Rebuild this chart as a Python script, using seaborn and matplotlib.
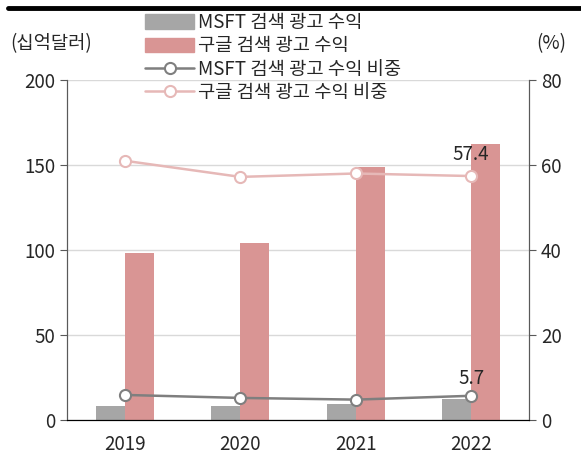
import numpy as np
import pandas as pd
import matplotlib
matplotlib.use('Agg')
import matplotlib.pyplot as plt
import seaborn as sns
from matplotlib.lines import Line2D

# data
years = ['2019', '2020', '2021', '2022']
msft_rev = [8.5, 8.5, 9.7, 12.5]          # 십억달러
google_rev = [98.1, 104.1, 149.0, 162.5]  # 십억달러
msft_share = [5.9, 5.2, 4.8, 5.7]         # %
google_share = [61.0, 57.2, 58.0, 57.4]   # %

rev_labels = ['MSFT 검색 광고 수익', '구글 검색 광고 수익']
share_labels = ['MSFT 검색 광고 수익 비중', '구글 검색 광고 수익 비중']

bar_colors = ['#a6a6a6', '#d99594']
line_colors = ['#7f7f7f', '#e6b8b7']
FS = 13.5

sns.set_style('white')
plt.rcParams['font.family'] = ['Noto Sans CJK KR', 'DejaVu Sans']
plt.rcParams['font.size'] = FS

bars = pd.DataFrame({
    'year': years * 2,
    'value': msft_rev + google_rev,
    'series': [rev_labels[0]] * 4 + [rev_labels[1]] * 4,
})

fig = plt.figure(figsize=(5.81, 4.61), dpi=100)
ax = fig.add_axes([0.1153, 0.0889, 0.7952, 0.7376])

sns.barplot(data=bars, x='year', y='value', hue='series', palette=bar_colors,
            width=0.5, saturation=1, linewidth=0, ax=ax, legend=False)

ax.set_ylim(0, 200)
ax.set_yticks([0, 50, 100, 150, 200])
ax.set_xlim(-0.5, len(years) - 0.5)
ax.set_xlabel('')
ax.set_ylabel('')
ax.yaxis.grid(True, color='#d9d9d9', linewidth=1)
ax.set_axisbelow(True)

# twin axis for shares
ax2 = ax.twinx()
x = np.arange(len(years))
for vals, col in zip([msft_share, google_share], line_colors):
    sns.lineplot(x=x, y=vals, ax=ax2, color=col, linewidth=1.8, marker='o',
                 markersize=8, markerfacecolor='white', markeredgecolor=col,
                 markeredgewidth=1.5)
ax2.set_ylim(0, 80)
ax2.set_yticks([0, 20, 40, 60, 80])
ax2.set_ylabel('')

ax2.annotate(f'{google_share[-1]:.1f}', (x[-1], google_share[-1]), xytext=(0, 8),
             textcoords='offset points', ha='center', va='bottom', fontsize=FS)
ax2.annotate(f'{msft_share[-1]:.1f}', (x[-1], msft_share[-1]), xytext=(0, 5),
             textcoords='offset points', ha='center', va='bottom', fontsize=FS)

# x ticks at category boundaries, labels at centres
ax.set_xticks(np.arange(-0.5, len(years)), labels=[''] * (len(years) + 1))
ax.set_xticks(x, labels=years, minor=True)
ax.tick_params(axis='x', which='major', length=6, direction='out', color='black')
ax.tick_params(axis='x', which='minor', length=0, pad=10, labelsize=FS)
ax.tick_params(axis='y', length=5, direction='out', color='#595959', labelsize=FS)
ax2.tick_params(axis='y', length=5, direction='out', color='#595959', labelsize=FS)

for a in (ax, ax2):
    a.spines['top'].set_visible(False)
    a.spines['left'].set_color('#595959')
    a.spines['right'].set_color('#595959')
    a.spines['bottom'].set_color('black')
ax2.spines['right'].set_visible(True)

# legend
handles = [plt.Rectangle((0, 0), 1, 1, color=c) for c in bar_colors]
handles += [Line2D([], [], color=c, linewidth=1.8, marker='o', markersize=8,
                   markerfacecolor='white', markeredgecolor=c, markeredgewidth=1.5)
            for c in line_colors]
fig.legend(handles, rev_labels + share_labels, loc='upper left',
           bbox_to_anchor=(0.237, 0.99), frameon=False, fontsize=FS,
           handlelength=2.6, handleheight=0.8, handletextpad=0.2,
           labelspacing=0.12, borderaxespad=0)

fig.text(0.017, 0.905, '(십억달러)', fontsize=FS, va='center', ha='left')
fig.text(0.975, 0.905, '(%)', fontsize=FS, va='center', ha='right')

# report header rule
fig.add_artist(Line2D([0.013, 1.0], [0.982, 0.982], color='black', linewidth=3.5))

fig.savefig('out.png', dpi=100)
